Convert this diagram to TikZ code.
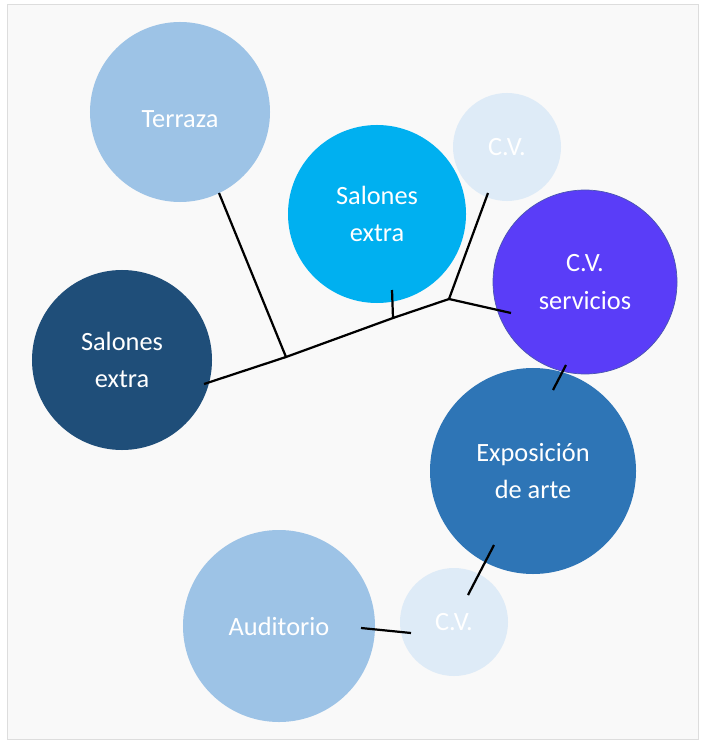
\documentclass[tikz,border=0pt]{standalone}
\usepackage{fontspec}
\setmainfont{Carlito}
\usepackage{tikz}
\usepackage{xcolor}
\usetikzlibrary{calc}

\definecolor{lightblue}{HTML}{9DC3E6}
\definecolor{paleblue}{HTML}{DEEBF7}
\definecolor{skyblue}{HTML}{00B0F0}
\definecolor{cvviolet}{HTML}{5A3DF8}
\definecolor{cvrim}{HTML}{4A55B0}
\definecolor{navyblue}{HTML}{1F4E79}
\definecolor{midblue}{HTML}{2E75B6}
\definecolor{framegray}{HTML}{DDDDDD}
\definecolor{bggray}{HTML}{F9F9F9}

\begin{document}
\begin{tikzpicture}[x=0.03cm, y=-0.03cm,
    bubble/.style={circle, inner sep=0pt, align=center, text=white, font=\fontsize{22.5}{32}\selectfont},
    link/.style={line width=1.9pt, black}]
    % Frame
    \useasboundingbox (0,0) rectangle (701,741);
    \draw[framegray, fill=bggray, line width=0.8pt] (7,4) rectangle (698,739);

    % Upper group
    \node[bubble, fill=lightblue, minimum size=5.4cm, text height=27pt] (terraza) at (180,112) {Terraza};
    \node[bubble, fill=skyblue, minimum size=5.34cm] (salonesA) at (377,214) {Salones\\extra};
    \node[bubble, fill=paleblue, minimum size=3.24cm] (cvtop) at (507,147) {C.V.};
    \node[bubble, fill=cvviolet, draw=cvrim, line width=0.6pt, minimum size=5.52cm] (servicios) at (585,282) {C.V.\\servicios};
    \node[bubble, fill=navyblue, minimum size=5.4cm] (salonesB) at (122,360) {Salones\\extra};

    % Lower group
    \node[bubble, fill=midblue, minimum size=6.18cm] (expo) at (533,471) {Exposición\\de arte};
    \node[bubble, fill=paleblue, minimum size=3.24cm] (cvbottom) at (454,622) {C.V.};
    \node[bubble, fill=lightblue, minimum size=5.76cm] (auditorio) at (279,626) {Auditorio};

    % Branch points
    \coordinate (j1) at (286,357);
    \coordinate (j2) at (393,318);
    \coordinate (j3) at (449,299);

    % Connections
    \draw[link] ($(salonesB)+(82,24)$) -- (j1) -- (j2) -- (j3);
    \draw[link] ($(terraza)+(39,81)$) -- (j1);
    \draw[link] ($(salonesA)+(15,76)$) -- (j2);
    \draw[link] ($(cvtop)+(-19,46)$) -- (j3);
    \draw[link] (j3) -- ($(servicios)+(-74,31)$);
    \draw[link] ($(servicios)+(-19,83)$) -- ($(expo)+(20,-81)$);
    \draw[link] ($(expo)+(-39,74)$) -- ($(cvbottom)+(14,-27)$);
    \draw[link] ($(cvbottom)+(-43,11)$) -- ($(auditorio)+(82,2)$);
\end{tikzpicture}
\end{document}
